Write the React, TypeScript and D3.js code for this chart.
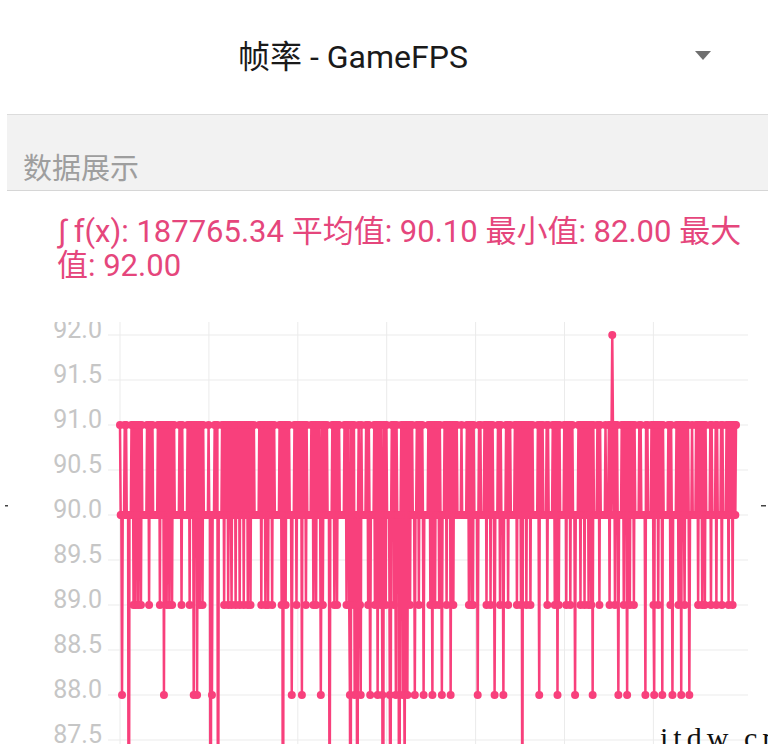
import React from 'react';
import * as d3 from 'd3';

// GameFPS samples, read left to right (four consecutive stretches, 24 samples per row)
const fpsA = [
  91,90,90,88,90,90,90,91,90,91,90,90,90,84,90,90,90,91,90,91,89,91,90,89,
  91,90,91,89,91,90,91,89,91,90,90,90,90,90,90,90,91,90,91,89,91,90,91,90,
  91,90,90,90,90,90,90,90,91,90,91,89,91,90,91,90,91,88,91,90,91,89,91,90,
  91,89,91,90,91,89,91,90,91,90,90,90,90,90,90,90,91,90,91,89,91,90,90,90,
  90,90,90,90,91,90,91,89,91,90,91,90,91,88,91,90,91,90,88,91,90,91,89,91,
  90,91,89,91,90,90,90,90,90,90,90,91,90,90,84,90,88,90,90,90,91,90,91,90,
  91,85,90,90,90,90,90,91,90,91,89,91,90,91,90,91,89,91,90,91,90,89,91,90,
  91,90,91,89,91,90,91,90,91,89,91,90,91,90,91,89,91,90,91,90,91,89,91,90,
  91,89,91,90,91,90,91,90,90,90,90,90,90,90,91,90,91,89,91,90,91,90,91,89,
  91,90,91,89,91,90,91,90,91,89,91,90,91,90,90,90,90,90,90,90,91,90,91,89,
];
const fpsB = [
  91,84,91,90,91,89,91,90,91,90,91,90,90,90,88,90,90,90,91,90,91,89,91,90,
  91,90,91,90,91,88,91,90,91,90,91,89,91,90,90,90,90,90,90,91,90,91,89,91,
  90,91,89,91,90,91,90,91,90,88,90,91,89,91,90,91,90,90,91,90,90,90,86,90,
  90,90,91,90,91,89,91,90,91,89,91,90,91,90,90,90,90,90,90,90,91,90,91,89,
  91,90,91,89,88,85,91,90,91,89,91,88,90,90,90,84,90,91,90,89,88,91,90,90,
  90,90,90,90,91,90,91,89,91,90,88,90,90,90,90,90,91,89,91,90,91,88,91,90,
  91,89,91,90,88,83,91,90,91,89,91,90,90,90,90,88,86,90,91,90,91,89,91,90,
  88,91,90,90,90,82,90,90,91,90,88,91,89,87,91,90,91,88,91,90,91,89,91,90,
  91,90,90,90,88,90,90,91,90,91,89,91,90,91,90,91,90,88,90,90,90,90,90,90,
  91,90,91,89,91,90,88,91,90,91,89,91,90,91,90,91,89,91,90,90,88,90,90,90,
];
const fpsC = [
  91,90,91,89,91,90,91,90,91,88,91,90,91,89,91,90,91,90,91,90,90,90,90,90,
  90,91,90,90,90,90,90,90,90,91,90,91,89,91,90,91,89,91,89,91,90,90,90,90,
  90,88,90,91,90,91,90,90,90,90,90,91,90,91,89,91,90,91,90,91,89,91,90,91,
  90,90,88,90,90,90,90,91,90,91,89,91,90,90,90,88,90,90,90,91,90,91,89,91,
  90,91,90,90,90,90,90,90,91,90,91,89,91,90,91,90,91,89,91,86,91,90,91,90,
  91,89,91,90,91,90,91,89,91,90,91,90,90,90,90,90,90,90,91,90,88,91,90,91,
  90,91,90,90,90,90,90,91,89,91,90,90,90,90,90,90,91,90,91,89,91,90,91,88,
  91,89,91,90,90,90,90,90,90,91,90,91,89,91,90,91,90,91,89,91,90,91,90,90,
  90,88,90,90,90,90,91,90,91,89,91,90,91,90,91,89,91,90,91,90,91,89,91,90,
  91,89,91,88,91,90,90,90,90,90,91,90,91,89,91,90,90,90,90,90,90,90,91,90,
];
const fpsD = [
  90,90,90,91,89,91,90,91,92,91,90,91,89,91,90,91,90,88,90,90,90,90,91,90,
  91,89,91,90,91,90,88,91,90,91,89,91,90,91,90,91,89,91,90,90,90,90,90,90,
  91,90,91,90,90,90,90,90,90,88,91,90,91,90,90,90,90,90,91,90,91,89,88,91,
  90,91,90,91,89,91,90,91,90,91,88,91,90,90,90,90,90,90,90,91,90,91,89,91,
  90,88,90,90,90,90,90,91,90,91,89,91,90,91,88,91,90,91,90,89,91,90,91,90,
  91,90,88,90,90,90,91,90,90,90,90,90,91,90,91,89,91,90,91,90,91,89,91,90,
  91,89,91,90,90,90,90,90,90,91,89,91,90,90,90,90,90,91,89,91,90,90,90,90,
  90,91,89,91,90,90,90,90,90,91,90,91,89,91,90,91,90,91,89,91,90,91,90,91,
];

const yTicks = [87.5, 88, 88.5, 89, 89.5, 90, 90.5, 91, 91.5, 92];
const xGridTicks = [0, 1, 2, 3, 4, 5, 6];

const title = '帧率 - GameFPS';
const sectionLabel = '数据展示';
const statsLine1 = '∫ f(x): 187765.34 平均值: 90.10 最小值: 82.00 最大';
const statsLine2 = '值: 92.00';
const watermark = 'itdw.cn';

const PINK = '#f8407c';
const SANS = "Roboto, 'Noto Sans CJK SC', 'Noto Sans', sans-serif";

export default function App() {
  const data = [...fpsA, ...fpsB, ...fpsC, ...fpsD];
  const W = 768;
  const H = 744;
  const x = d3.scaleLinear().domain([0, data.length - 1]).range([120, 736]);
  const y = d3.scaleLinear().domain([87.5, 92]).range([740, 335]);
  const xg = d3.scaleLinear().domain([0, 7]).range([120, 742.3]);
  const path = d3
    .line<number>()
    .x((_, i) => x(i))
    .y((d) => y(d))(data) as string;

  return (
    <svg
      width={W}
      height={H}
      style={{ position: 'fixed', left: 0, top: 0, background: '#fff' }}
    >
      <defs>
        <clipPath id="chartClip">
          <rect x={0} y={322} width={W} height={H - 322} />
        </clipPath>
      </defs>
      <rect x={0} y={0} width={W} height={H} fill="#fff" />

      {/* header */}
      <text
        x={353}
        y={68}
        textAnchor="middle"
        fontFamily={SANS}
        fontSize={32}
        fill="#1a1a1a"
      >
        {title}
      </text>
      <path d="M695,51 L711,51 L703,60 Z" fill="#6f6f6f" />

      {/* section band */}
      <rect x={7} y={114} width={W - 7} height={76} fill="#f2f2f2" />
      <line x1={7} x2={W} y1={114.5} y2={114.5} stroke="#dcdcdc" />
      <line x1={7} x2={W} y1={190.5} y2={190.5} stroke="#d6d6d6" />
      <text x={23} y={179} fontFamily={SANS} fontSize={29} fill="#9e9e9e">
        {sectionLabel}
      </text>

      {/* stats */}
      <text x={58} y={242} fontFamily={SANS} fontSize={31} fill="#e5467c">
        {statsLine1}
      </text>
      <text x={57} y={276} fontFamily={SANS} fontSize={31} fill="#e5467c">
        {statsLine2}
      </text>

      {/* chart */}
      <g clipPath="url(#chartClip)">
        {yTicks.map((t) => (
          <line
            key={'h' + t}
            x1={108}
            x2={748}
            y1={y(t)}
            y2={y(t)}
            stroke="#ebebeb"
            strokeWidth={1}
          />
        ))}
        {xGridTicks.map((t) => (
          <line
            key={'v' + t}
            x1={xg(t)}
            x2={xg(t)}
            y1={322}
            y2={H}
            stroke="#ebebeb"
            strokeWidth={1}
          />
        ))}
        {yTicks.map((t) => (
          <text
            key={'l' + t}
            x={102}
            y={y(t) + 3}
            textAnchor="end"
            fontFamily={SANS}
            fontSize={25}
            fill="#c6c6c6"
          >
            {t.toFixed(1)}
          </text>
        ))}
        <path d={path} fill="none" stroke={PINK} strokeWidth={2.5} strokeLinejoin="round" />
        {data.map((d, i) => (
          <circle key={i} cx={x(i)} cy={y(d)} r={4} fill={PINK} />
        ))}
      </g>

      {/* screenshot frame marks */}
      <rect x={5} y={505} width={3} height={1.5} fill="#444" />
      <rect x={761} y={505} width={5} height={1.5} fill="#444" />

      <text
        x={660}
        y={748}
        fontFamily="'Liberation Serif', 'DejaVu Serif', serif"
        fontSize={30}
        letterSpacing={5}
        fill="#111"
      >
        {watermark}
      </text>
    </svg>
  );
}
